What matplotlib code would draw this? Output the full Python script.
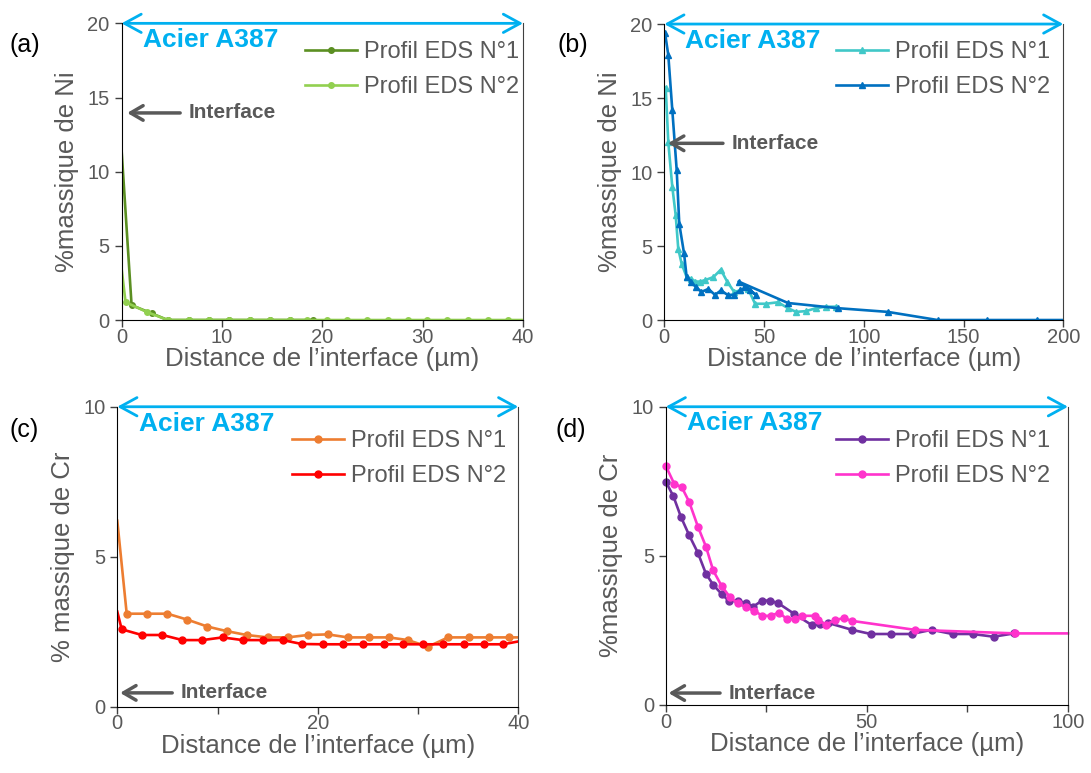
import numpy as np
import matplotlib.pyplot as plt

plt.rcParams['font.family'] = ['Liberation Sans', 'DejaVu Sans']

# (a) Ni, profils EDS
xa1 = [0, 1.0, 3.0, 4.6, 6.7, 8.7, 10.7, 12.8, 14.8, 16.8, 19.1]
ya1 = [11.5, 1.0, 0.45, 0, 0, 0, 0, 0, 0, 0, 0]
xa2 = [0, 0.4, 2.5, 4.6, 6.7, 8.7, 10.7, 12.8, 14.8, 16.8, 18.5, 20.5, 22.5,
       24.5, 26.5, 28.5, 30.4, 32.4, 34.5, 36.5, 38.5, 40.5]
ya2 = [3.5, 1.2, 0.55, 0, 0, 0, 0, 0, 0, 0, 0, 0, 0, 0, 0, 0, 0, 0, 0, 0, 0, 0]

# (b) Ni, profils EDS
xb1 = [0.7, 2.0, 4.0, 5.7, 7.0, 8.7, 11.2, 13.4, 15.5, 17.9, 20.5, 24.6, 28.3,
       31.5, 35, 38, 42, 45.5, 51, 57, 62, 66, 71, 76, 81, 86]
yb1 = [15.7, 12.0, 9.0, 7.1, 4.8, 3.8, 2.9, 2.8, 2.6, 2.6, 2.7, 2.9, 3.4,
       2.6, 1.9, 2.0, 2.1, 1.1, 1.1, 1.2, 0.8, 0.55, 0.6, 0.8, 0.9, 0.9]
xb2 = [0.35, 2.0, 4.0, 6.2, 7.5, 9.9, 11.2, 13.2, 15.7, 18.6, 22.1, 25.4, 28.4,
       31.7, 35.0, 37.9, 40.5, 43, 46, 37.2, 62, 87, 112, 137, 162, 187, 212]
yb2 = [19.4, 17.9, 14.2, 10.15, 6.5, 4.5, 2.9, 2.6, 2.25, 1.9, 2.1, 1.7, 2.0,
       1.7, 1.7, 2.0, 2.2, 2.0, 1.7, 2.6, 1.15, 0.8, 0.55, 0, 0, 0, 0]

# (c) Cr, profils EDS
xc1 = [0, 0.94, 3.0, 5.0, 7.0, 9.0, 10.9, 12.9, 15.0, 17.0, 19.0, 21.0, 23.0,
       25.1, 27.1, 29.0, 31.0, 33.0, 35.1, 37.1, 39.1, 41]
yc1 = [6.2, 3.1, 3.1, 3.1, 2.9, 2.67, 2.52, 2.39, 2.31, 2.31, 2.39, 2.41, 2.31,
       2.31, 2.31, 2.22, 2.0, 2.31, 2.31, 2.31, 2.31, 2.31]
xc2 = [0, 0.44, 2.44, 4.5, 6.5, 8.5, 10.5, 12.5, 14.5, 16.5, 18.4, 20.5, 22.5,
       24.5, 26.6, 28.5, 30.5, 32.5, 34.6, 36.6, 38.5, 42]
yc2 = [3.17, 2.58, 2.39, 2.39, 2.22, 2.22, 2.31, 2.22, 2.22, 2.22, 2.09, 2.08,
       2.08, 2.08, 2.08, 2.08, 2.08, 2.08, 2.08, 2.08, 2.08, 2.3]

# (d) Cr, profils EDS
xd1 = [0, 1.9, 3.8, 5.8, 8.0, 10.0, 11.8, 13.9, 15.7, 17.9, 19.9, 21.8, 23.9,
       25.9, 28.0, 32.0, 36.3, 38.4, 40.4, 46.3, 51.0, 56.0, 61.1, 66.1, 71.3,
       76.3, 81.5, 86.6]
yd1 = [7.49, 7.0, 6.3, 5.7, 5.1, 4.4, 4.03, 3.72, 3.49, 3.49, 3.41, 3.3, 3.5,
       3.5, 3.41, 3.05, 2.68, 2.7, 2.75, 2.52, 2.38, 2.38, 2.38, 2.52, 2.38,
       2.38, 2.29, 2.4]
xd2 = [0, 2.1, 4.0, 5.8, 8.0, 10.0, 11.8, 13.9, 16.0, 17.9, 19.9, 22.0, 24.0,
       26.1, 28.2, 30.1, 32.2, 34.0, 37.0, 37.8, 39.8, 42.1, 44.2, 46.3, 61.9,
       86.9, 100]
yd2 = [8.02, 7.42, 7.3, 6.82, 5.98, 5.31, 4.51, 3.99, 3.61, 3.41, 3.28, 3.16,
       2.99, 2.99, 3.1, 2.88, 2.88, 2.99, 2.99, 2.85, 2.69, 2.85, 2.91, 2.82,
       2.52, 2.4, 2.4]

GREY = '#595959'
BLUE_ARROW = '#00B0F0'
xlabel = 'Distance de l\u2019interface (\u00b5m)'


def style_axes(ax, xmax, ymax, xticks, xlabels, yticks, ylabel, leg_xy):
    ax.set_xlim(0, xmax)
    ax.set_ylim(0, ymax)
    ax.set_xticks(xticks)
    ax.set_xticklabels(xlabels)
    ax.set_yticks(yticks)
    ax.tick_params(labelsize=14.5, labelcolor=GREY, length=5, width=1,
                   color='#404040')
    ax.tick_params(axis='x', pad=0.5)
    ax.spines['top'].set_visible(False)
    for s in ['left', 'bottom']:
        ax.spines[s].set_color('black')
    ax.spines['right'].set_color('#404040')
    ax.set_xlabel(xlabel, fontsize=18.5, color=GREY, labelpad=0.5)
    ax.set_ylabel(ylabel, fontsize=18.5, color=GREY, labelpad=6)
    # fleche "Acier A387" en haut
    ax.annotate('', xy=(0, 1), xytext=(1, 1), xycoords='axes fraction',
                arrowprops=dict(arrowstyle='<->,head_length=0.55,head_width=0.3',
                                color=BLUE_ARROW, lw=2, shrinkA=0, shrinkB=0,
                                mutation_scale=22),
                annotation_clip=False)
    ax.text(0.053, 0.944, 'Acier A387', transform=ax.transAxes, fontsize=19,
            fontweight='bold', color=BLUE_ARROW, va='center', ha='left')
    leg = ax.legend(loc='center left', bbox_to_anchor=leg_xy,
                    frameon=False, fontsize=17, handlelength=2.2,
                    handletextpad=0.3, labelspacing=0.55, borderaxespad=0,
                    borderpad=0)
    for t in leg.get_texts():
        t.set_color(GREY)


def interface(ax, tip, tail, ytxt):
    ax.annotate('', xy=(tip, ytxt), xytext=(tail, ytxt),
                xycoords='axes fraction',
                arrowprops=dict(arrowstyle='->,head_length=0.6,head_width=0.35',
                                color=GREY, lw=2.5, shrinkA=0, shrinkB=0,
                                mutation_scale=15))
    ax.text(tail + 0.022, ytxt, 'Interface', transform=ax.transAxes,
            fontsize=15, fontweight='bold', color=GREY, va='center', ha='left')


fig = plt.figure(figsize=(10.91, 7.73), dpi=100)
ax_a = fig.add_axes([0.1114, 0.586, 0.368, 0.3838])
ax_b = fig.add_axes([0.6089, 0.586, 0.3657, 0.3829])
ax_c = fig.add_axes([0.1075, 0.0858, 0.3675, 0.388])
ax_d = fig.add_axes([0.6102, 0.088, 0.3687, 0.3858])

lw = 1.9
ax_a.plot(xa1, ya1, color='#5B8F22', lw=lw, marker='o', ms=4,
          markevery=slice(1, None), label='Profil EDS N\u00b01')
ax_a.plot(xa2, ya2, color='#92D050', lw=lw, marker='o', ms=4,
          markevery=slice(1, None), label='Profil EDS N\u00b02')
style_axes(ax_a, 40, 20, [0, 10, 20, 30, 40], ['0', '10', '20', '30', '40'],
           [0, 5, 10, 15, 20], '%massique de Ni', (0.457, 0.844))
interface(ax_a, 0.014, 0.146, 0.698)

ax_b.plot(xb1, yb1, color='#40C8C8', lw=lw, marker='^', ms=5, label='Profil EDS N\u00b01')
ax_b.plot(xb2, yb2, color='#0070C0', lw=lw, marker='^', ms=5, label='Profil EDS N\u00b02')
style_axes(ax_b, 200, 20, [0, 50, 100, 150, 200], ['0', '50', '100', '150', '200'],
           [0, 5, 10, 15, 20], '%massique de Ni', (0.43, 0.846))
interface(ax_b, 0.009, 0.147, 0.597)

ax_c.plot(xc1, yc1, color='#ED7D31', lw=lw, marker='o', ms=5,
          markevery=slice(1, None), label='Profil EDS N\u00b01')
ax_c.plot(xc2, yc2, color='#FF0000', lw=lw, marker='o', ms=5,
          markevery=slice(1, None), label='Profil EDS N\u00b02')
style_axes(ax_c, 40, 10, [0, 10, 20, 30, 40], ['0', '', '20', '', '40'],
           [0, 5, 10], '% massique de Cr', (0.436, 0.827))
interface(ax_c, 0.007, 0.137, 0.046)

ax_d.plot(xd1, yd1, color='#7030A0', lw=lw, marker='o', ms=5, clip_on=False,
          label='Profil EDS N\u00b01')
ax_d.plot(xd2, yd2, color='#FF33CC', lw=lw, marker='o', ms=5, clip_on=False,
          markevery=slice(0, -1), label='Profil EDS N\u00b02')
style_axes(ax_d, 100, 10, [0, 25, 50, 75, 100], ['0', '', '50', '', '100'],
           [0, 5, 10], '%massique de Cr', (0.424, 0.827))
interface(ax_d, 0.007, 0.135, 0.04)

for lab, x, y in [('(a)', 0.009, 0.942), ('(b)', 0.511, 0.942),
                  ('(c)', 0.009, 0.444), ('(d)', 0.509, 0.444)]:
    fig.text(x, y, lab, fontsize=18, va='center', ha='left')

fig.savefig('out.png', dpi=100)
